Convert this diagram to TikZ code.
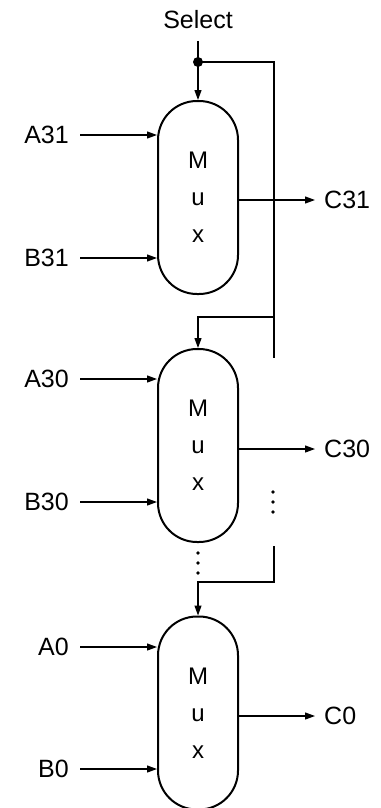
\documentclass[tikz,border=0pt]{standalone}
\usepackage{fontspec}
\setmainfont{Liberation Sans}
\usetikzlibrary{arrows.meta}

\tikzset{
  wire/.style={line width=1.2pt},
  sig/.style={wire, -{Triangle[length=10pt,width=7pt]}},
  mux/.style={draw, line width=2pt, rounded corners=39pt, minimum width=80pt,
    minimum height=193pt, align=center, font=\fontsize{24}{37}\selectfont},
  inlbl/.style={anchor=east, inner xsep=11pt},
  outlbl/.style={anchor=west, inner xsep=9pt},
}

\begin{document}
\begin{tikzpicture}[x=1pt,y=-1pt,font=\fontsize{25}{30}\selectfont]
\useasboundingbox (0,0) rectangle (380,808);
% the three multiplexers
\node[mux] (mux31) at (198,197.5) {M\\u\\x};
\node[mux] (mux30) at (198,445.5) {M\\u\\x};
\node[mux] (mux0) at (198,713) {M\\u\\x};
% inputs
\node[inlbl] (a31) at (80,135) {A31};
\node[inlbl] (b31) at (80,258) {B31};
\node[inlbl] (a30) at (80,379) {A30};
\node[inlbl] (b30) at (80,502) {B30};
\node[inlbl] (a0) at (80,647) {A0};
\node[inlbl] (b0) at (80,769) {B0};
\foreach \m/\a/\b in {mux31/a31/b31, mux30/a30/b30, mux0/a0/b0} {
  \draw[sig] (\a.east) -- (\m.west |- \a.east);
  \draw[sig] (\b.east) -- (\m.west |- \b.east);
}
% outputs
\node[outlbl] (c31) at (315,200) {C31};
\node[outlbl] (c30) at (315,449) {C30};
\node[outlbl] (c0) at (315,716) {C0};
\foreach \m/\c in {mux31/c31, mux30/c30, mux0/c0}
  \draw[sig] (\m.east |- \c.west) -- (\c.west);
% select line
\node (select) at (198,20) {Select};
\coordinate (s0) at (198,41);
\coordinate (j31) at (198,62);
\coordinate (r31) at (274,62);
\coordinate (r30) at (274,317);
\coordinate (r30b) at (274,358);
\coordinate (r0a) at (274,546);
\coordinate (r0) at (274,582);
\draw[wire] (s0) -- (j31);
\fill (j31) circle (5pt);
\draw[sig] (j31) -- (mux31.north);
\draw[wire] (j31) -- (r31) -- (r30b);
\draw[sig] (r30) -| (mux30.north);
\draw[sig] (r0a) -- (r0) -| (mux0.north);
% dots
\foreach \y in {492,502,512} \fill (273,\y) circle (1.8pt);
\foreach \y in {553,563,573} \fill (198,\y) circle (1.8pt);
\end{tikzpicture}
\end{document}
